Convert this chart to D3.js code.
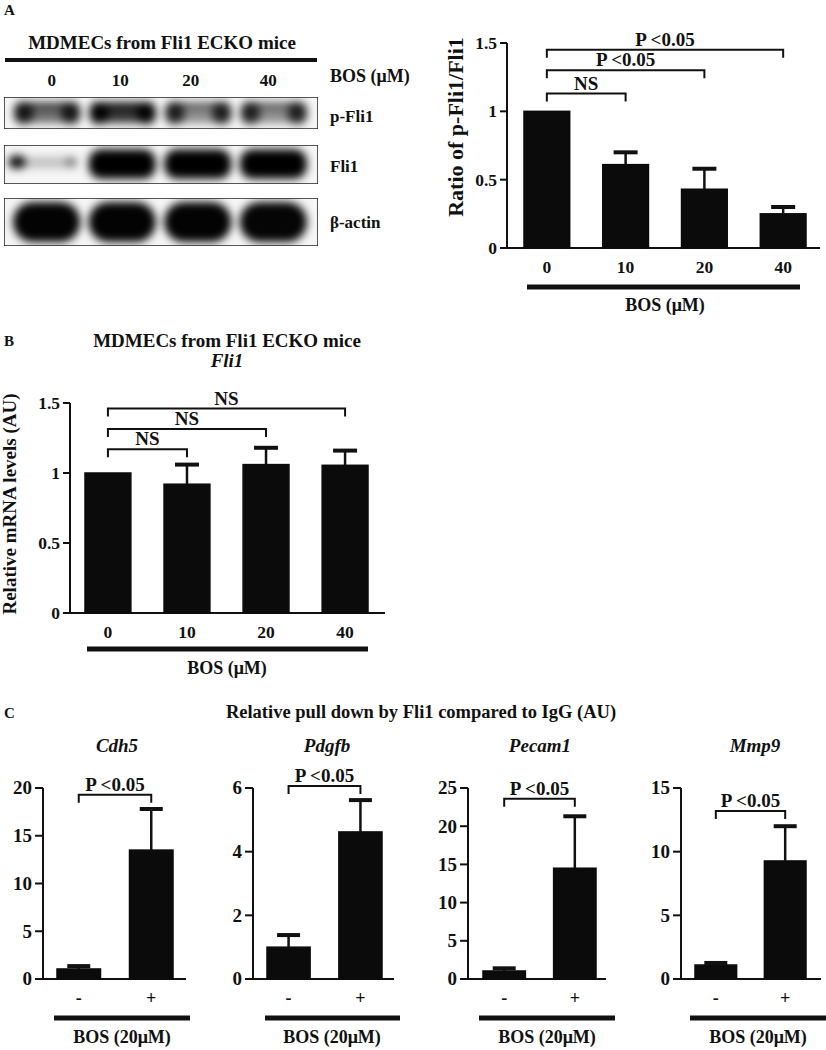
<!DOCTYPE html>
<html><head><meta charset="utf-8">
<script src="https://cdn.jsdelivr.net/npm/d3@7"></script>
<style>
html,body{margin:0;padding:0;background:#fff;}
svg text{font-family:"Liberation Serif","Times New Roman",serif;font-weight:bold;fill:#111;}
</style></head>
<body>
<svg id="fig" width="826" height="1050"></svg>
<script>
// ---------- DATA ----------
const doseCats = ["0", "10", "20", "40"];
const blotRows = ["p-Fli1", "Fli1", "β-actin"];
// band darkness (0..1) per lane for each blot row
const pFli1Core = [0.55, 0.78, 0.42, 0.42];
const pFli1Edge = [0.78, 0.92, 0.78, 0.76];
const fli1Core = [0.22, 0.96, 0.95, 0.95];
const fli1Edge = [0.92, 0.99, 0.99, 0.99];
const actinCore = [0.99, 0.99, 0.99, 0.98];

const ratioVals = [1.0, 0.61, 0.43, 0.25];
const ratioErr = [1.0, 0.70, 0.58, 0.30];
const ratioTicks = [0, 0.5, 1, 1.5];
const ratioTickLabels = ["0", "0.5", "1", "1.5"];
const ratioBrackets = [
  {from: "0", to: "10", y: 1.13, label: "NS"},
  {from: "0", to: "20", y: 1.30, label: "P <0.05"},
  {from: "0", to: "40", y: 1.45, label: "P <0.05"}
];

const mrnaVals = [1.0, 0.92, 1.06, 1.055];
const mrnaErr = [1.0, 1.06, 1.18, 1.16];
const mrnaTicks = [0, 0.5, 1, 1.5];
const mrnaTickLabels = ["0", "0.5", "1", "1.5"];
const mrnaBrackets = [
  {from: "0", to: "10", y: 1.17, label: "NS"},
  {from: "0", to: "20", y: 1.315, label: "NS"},
  {from: "0", to: "40", y: 1.46, label: "NS"}
];

const bosCats = ["-", "+"];
const genes = ["Cdh5", "Pdgfb", "Pecam1", "Mmp9"];
const cdh5Vals = [1.05, 13.5],  cdh5Err = [1.35, 17.8];
const pdgfbVals = [1.0, 4.62],  pdgfbErr = [1.38, 5.62];
const pecam1Vals = [1.05, 14.5], pecam1Err = [1.4, 21.3];
const mmp9Vals = [1.1, 9.27],   mmp9Err = [1.26, 12.0];
const cdh5Ticks = [0, 5, 10, 15, 20];
const pdgfbTicks = [0, 2, 4, 6];
const pecam1Ticks = [0, 5, 10, 15, 20, 25];
const mmp9Ticks = [0, 5, 10, 15];
const cBracketY = [19.3, 6.06, 23.6, 13.2];

// ---------- DRAW ----------
const svg = d3.select("#fig");
const defs = svg.append("defs");
defs.append("filter").attr("id", "blur").attr("x", "-30%").attr("y", "-60%").attr("width", "160%").attr("height", "220%")
  .append("feGaussianBlur").attr("stdDeviation", 4.2);

function txt(g, x, y, s, size, anchor, extra) {
  const t = g.append("text").attr("x", x).attr("y", y).attr("font-size", size)
    .attr("text-anchor", anchor || "middle").text(s);
  if (extra) extra(t);
  return t;
}
function line(g, x1, y1, x2, y2, w) {
  return g.append("line").attr("x1", x1).attr("y1", y1).attr("x2", x2).attr("y2", y2)
    .attr("stroke", "#111").attr("stroke-width", w);
}

// Panel letters
txt(svg, 4, 15, "A", 15, "start");
txt(svg, 4, 346, "B", 15, "start");
txt(svg, 4, 718, "C", 15, "start");

// ---------- Western blot ----------
const blot = svg.append("g");
txt(blot, 162, 49, "MDMECs from Fli1 ECKO mice", 19);
line(blot, 5, 60, 317, 60, 4);
const lane = d3.scaleBand().domain(doseCats).range([10, 310]).paddingInner(0.03);
doseCats.forEach((c, i) => txt(blot, lane(c) + lane.bandwidth() / 2 + [5, -2, -7, -5][i], 86, c, 17));
txt(blot, 330, 82, "BOS (μM)", 18, "start");

const rowBoxes = d3.scaleOrdinal().domain(blotRows).range([[97, 129], [145, 184], [198, 246]]);
const rowLabelY = [122, 172, 228];
const rowData = [
  {core: pFli1Core, edge: pFli1Edge},
  {core: fli1Core, edge: fli1Edge},
  {core: actinCore, edge: actinCore}
];
blotRows.forEach((r, ri) => {
  const [y0, y1] = rowBoxes(r);
  const h = y1 - y0;
  const cp = "clip" + ri;
  defs.append("clipPath").attr("id", cp).append("rect").attr("x", 4).attr("y", y0).attr("width", 314).attr("height", h);
  const g = blot.append("g").attr("clip-path", `url(#${cp})`);
  g.append("rect").attr("x", 4).attr("y", y0).attr("width", 314).attr("height", h).attr("fill", "#f6f6f6");
  const bg = g.append("g").attr("filter", "url(#blur)");
  doseCats.forEach((c, li) => {
    const x = lane(c), w = lane.bandwidth();
    const core = rowData[ri].core[li], edge = rowData[ri].edge[li];
    if (ri === 0) {
      // p-Fli1: grey band with darker ends and upper edge
      bg.append("rect").attr("x", x + 4).attr("y", y0 + 5).attr("width", w - 8).attr("height", h - 11)
        .attr("rx", 10).attr("fill", "#000").attr("opacity", core);
      bg.append("rect").attr("x", x + 6).attr("y", y0 + 5).attr("width", w - 12).attr("height", 8)
        .attr("rx", 4).attr("fill", "#000").attr("opacity", core * 0.7);
      bg.append("rect").attr("x", x + 4).attr("y", y0 + 5).attr("width", w * 0.26).attr("height", h - 10)
        .attr("rx", 8).attr("fill", "#000").attr("opacity", edge);
      bg.append("rect").attr("x", x + w * 0.70).attr("y", y0 + 5).attr("width", w * 0.26).attr("height", h - 10)
        .attr("rx", 8).attr("fill", "#000").attr("opacity", edge);
    } else if (ri === 1) {
      if (li === 0) {
        bg.append("rect").attr("x", x + 2).attr("y", y0 + 12).attr("width", w - 8).attr("height", 11)
          .attr("rx", 5).attr("fill", "#000").attr("opacity", core);
        bg.append("ellipse").attr("cx", x + 7).attr("cy", y0 + 17).attr("rx", 9).attr("ry", 7)
          .attr("fill", "#000").attr("opacity", edge);
        bg.append("ellipse").attr("cx", x + w - 12).attr("cy", y0 + 17).attr("rx", 6).attr("ry", 5)
          .attr("fill", "#000").attr("opacity", 0.35);
      } else {
        bg.append("rect").attr("x", x + 3).attr("y", y0 + 4).attr("width", w - 6).attr("height", h - 9)
          .attr("rx", 13).attr("fill", "#000").attr("opacity", core);
        bg.append("rect").attr("x", x + 5).attr("y", y0 + 8).attr("width", w - 10).attr("height", h - 18)
          .attr("rx", 10).attr("fill", "#000").attr("opacity", edge);
      }
    } else {
      bg.append("rect").attr("x", x + 3).attr("y", y0 + 4).attr("width", w - 6).attr("height", h - 8)
        .attr("rx", 20).attr("fill", "#000").attr("opacity", core);
    }
  });
  g.append("rect").attr("x", 4).attr("y", y0).attr("width", 314).attr("height", h)
    .attr("fill", "none").attr("stroke", "#222").attr("stroke-width", 1.5);
  txt(blot, 330, rowLabelY[ri], r, 17, "start");
});

// ---------- Generic bar chart ----------
function barChart(cfg) {
  const g = svg.append("g");
  const y = d3.scaleLinear().domain(cfg.yDomain).range(cfg.yRange);
  const x = d3.scaleBand().domain(cfg.cats).range(cfg.barRange).paddingInner(cfg.pad).paddingOuter(0);
  // axes
  line(g, cfg.axisX, y(cfg.yDomain[0]), cfg.axisEnd, y(cfg.yDomain[0]), 2);
  line(g, cfg.axisX, y(cfg.yDomain[0]) + 1, cfg.axisX, y(cfg.yDomain[1]), 2);
  cfg.ticks.forEach((t, i) => {
    line(g, cfg.axisX - cfg.tickLen, y(t), cfg.axisX, y(t), 2);
    txt(g, cfg.axisX - cfg.tickLen - 3, y(t) + cfg.tickSize * 0.34, cfg.tickLabels[i], cfg.tickSize, "end");
  });
  // bars
  g.selectAll("rect.bar").data(cfg.cats).enter().append("rect")
    .attr("x", d => x(d)).attr("width", x.bandwidth())
    .attr("y", (d, i) => y(cfg.vals[i])).attr("height", (d, i) => y(0) - y(cfg.vals[i]))
    .attr("fill", "#0b0b0b").attr("stroke", "#0b0b0b").attr("stroke-width", 1.5);
  // error bars
  cfg.cats.forEach((c, i) => {
    if (cfg.errs[i] <= cfg.vals[i]) return;
    const cx = x(c) + x.bandwidth() / 2;
    line(g, cx, y(cfg.vals[i]), cx, y(cfg.errs[i]), 2.5);
    line(g, cx - cfg.cap / 2, y(cfg.errs[i]), cx + cfg.cap / 2, y(cfg.errs[i]), 4);
  });
  // x tick labels
  cfg.cats.forEach((c, i) => txt(g, x(c) + x.bandwidth() / 2, cfg.xLabY, cfg.xLabels ? cfg.xLabels[i] : c, cfg.xLabSize));
  // brackets
  (cfg.brackets || []).forEach(b => {
    const x1 = x(b.from) + x.bandwidth() / 2, x2 = x(b.to) + x.bandwidth() / 2, yy = y(b.y);
    g.append("path").attr("d", `M${x1},${yy + 8}V${yy}H${x2}V${yy + 8}`)
      .attr("fill", "none").attr("stroke", "#111").attr("stroke-width", 2);
    txt(g, (x1 + x2) / 2, yy - 4, b.label, cfg.brSize);
  });
  // BOS underline + label
  line(g, cfg.bos[0], cfg.bos[2], cfg.bos[1], cfg.bos[2], 5);
  txt(g, cfg.bosText[0], cfg.bosText[1], cfg.bosLabel, cfg.bosSize);
  return {g, x, y};
}

// Panel A bar chart
barChart({
  cats: doseCats, vals: ratioVals, errs: ratioErr,
  yDomain: [0, 1.5], yRange: [248, 43], barRange: [524, 806], pad: 0.42,
  axisX: 507, axisEnd: 820, tickLen: 7, ticks: ratioTicks, tickLabels: ratioTickLabels, tickSize: 17.5,
  cap: 24, xLabY: 273, xLabSize: 17.5, brackets: ratioBrackets, brSize: 19,
  bos: [527, 800, 287], bosText: [665, 311], bosLabel: "BOS (μM)", bosSize: 18
});
txt(svg, 0, 0, "Ratio of p-Fli1/Fli1", 22, "middle", t => t.attr("transform", "translate(463,127) rotate(-90)"));

// Panel B
txt(svg, 227, 347, "MDMECs from Fli1 ECKO mice", 19);
txt(svg, 227, 367, "Fli1", 19, "middle", t => t.attr("font-style", "italic"));
barChart({
  cats: doseCats, vals: mrnaVals, errs: mrnaErr,
  yDomain: [0, 1.5], yRange: [613, 403], barRange: [85, 368], pad: 0.42,
  axisX: 70, axisEnd: 385, tickLen: 7, ticks: mrnaTicks, tickLabels: mrnaTickLabels, tickSize: 17.5,
  cap: 24, xLabY: 638, xLabSize: 17.5, brackets: mrnaBrackets, brSize: 19,
  bos: [87, 368, 649], bosText: [227, 674], bosLabel: "BOS (μM)", bosSize: 18
});
txt(svg, 0, 0, "Relative mRNA levels (AU)", 19, "middle", t => t.attr("transform", "translate(16,504) rotate(-90)"));

// Panel C
txt(svg, 421, 718, "Relative pull down by Fli1 compared to IgG (AU)", 18.5);
const cCfg = [
  {vals: cdh5Vals, errs: cdh5Err, ticks: cdh5Ticks, max: 20, axisX: 43, axisEnd: 186, bars: [57, 173], bos: [54, 190], bt: 122, tc: 117},
  {vals: pdgfbVals, errs: pdgfbErr, ticks: pdgfbTicks, max: 6, axisX: 253, axisEnd: 394, bars: [267, 382], bos: [265, 400], bt: 332, tc: 327},
  {vals: pecam1Vals, errs: pecam1Err, ticks: pecam1Ticks, max: 25, axisX: 468, axisEnd: 606, bars: [483, 596], bos: [479, 615], bt: 547, tc: 540},
  {vals: mmp9Vals, errs: mmp9Err, ticks: mmp9Ticks, max: 15, axisX: 681, axisEnd: 821, bars: [695, 806], bos: [690, 826], bt: 758, tc: 755}
];
genes.forEach((gname, i) => {
  const c = cCfg[i];
  txt(svg, c.tc, 752, gname, 19, "middle", t => t.attr("font-style", "italic"));
  barChart({
    cats: bosCats, vals: c.vals, errs: c.errs,
    yDomain: [0, c.max], yRange: [979, 788], barRange: c.bars, pad: 0.4,
    axisX: c.axisX, axisEnd: c.axisEnd, tickLen: 8, ticks: c.ticks, tickLabels: c.ticks.map(String), tickSize: 19,
    cap: 23, xLabY: 1004, xLabSize: 18, brackets: [{from: "-", to: "+", y: cBracketY[i], label: "P <0.05"}], brSize: 19,
    bos: [c.bos[0], c.bos[1], 1018], bosText: [c.bt, 1043], bosLabel: "BOS (20μM)", bosSize: 18
  });
});
</script>
</body></html>
